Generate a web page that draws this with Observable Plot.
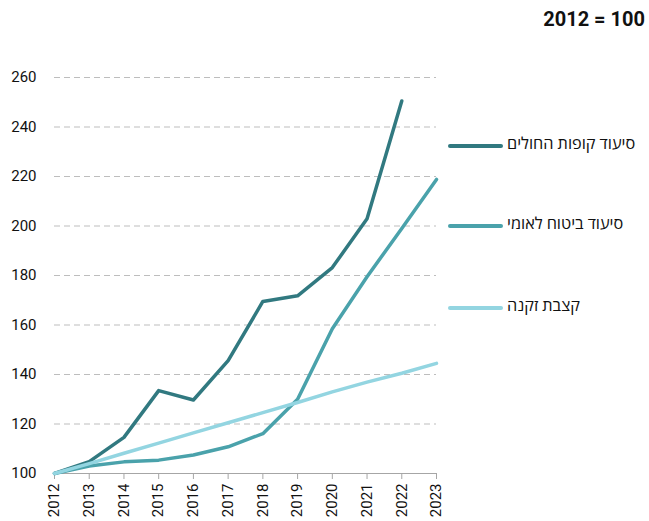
<!DOCTYPE html>
<html>
<head>
<meta charset="utf-8">
<script src="https://cdn.jsdelivr.net/npm/d3@7"></script>
<script src="https://cdn.jsdelivr.net/npm/@observablehq/plot@0.6"></script>
<style>
  html, body { margin: 0; padding: 0; background: #fff; }
  body { font-family: Roboto, "Open Sans", "Noto Sans", "DejaVu Sans", sans-serif; }
  #wrap { position: relative; width: 649px; height: 521px; }
  #title { position: absolute; right: 4px; top: 7px; font-size: 20px; font-weight: bold; color: #111; }
  .sw { position: absolute; left: 448px; width: 55px; height: 4px; border-radius: 2px; }
  .lt { position: absolute; left: 507px; font-size: 16.3px; line-height: 18px; color: #111; direction: rtl; white-space: nowrap; }
</style>
</head>
<body>
<div id="wrap">
  <div id="chart"></div>
  <div id="title">2012 = 100</div>
  <div id="legend"></div>
</div>
<script>
const years = [2012, 2013, 2014, 2015, 2016, 2017, 2018, 2019, 2020, 2021, 2022, 2023];
const seriesNames = ["סיעוד קופות החולים", "סיעוד ביטוח לאומי", "קצבת זקנה"];
const kupot   = [100, 104.8, 114.6, 133.5, 129.7, 145.6, 169.5, 171.8, 183.2, 202.9, 250.5];
const bituach = [100, 103.0, 104.7, 105.4, 107.5, 110.8, 116.1, 130.0, 158.5, 179.5, 199.0, 218.8];
const zikna   = [100, 104.0, 108.2, 112.3, 116.4, 120.5, 124.6, 128.7, 133.0, 136.9, 140.5, 144.5];
const yTicks = [100, 120, 140, 160, 180, 200, 220, 240, 260];
const colors = ["#317980", "#4aa2ab", "#93d5e1"];

const allSeries = [kupot, bituach, zikna];
const data = [];
allSeries.forEach((vals, i) => {
  vals.forEach((v, j) => data.push({year: years[j], value: v, series: seriesNames[i]}));
});

const chart = Plot.plot({
  width: 649,
  height: 521,
  marginLeft: 54,
  marginRight: 213,
  marginTop: 77,
  marginBottom: 48,
  style: {fontFamily: 'Roboto, "Open Sans", sans-serif', fontSize: "15px", color: "#111", background: "#fff"},
  x: {type: "linear", domain: [2012, 2023]},
  y: {domain: [100, 260]},
  color: {domain: seriesNames, range: colors},
  marks: [
    Plot.gridY(yTicks.filter(d => d > 100), {stroke: "#bdbdbd", strokeOpacity: 1, strokeDasharray: "6,4", strokeWidth: 1.2}),
    Plot.axisY(yTicks, {tickSize: 0, tickPadding: 18, label: null, fontSize: 15}),
    Plot.ruleY([100], {stroke: "#a6a6a6", strokeWidth: 1.2}),
    Plot.axisX(years, {tickSize: 6, tickRotate: -90, tickFormat: d => String(d), label: null, fontSize: 15, stroke: "#a6a6a6", tickPadding: 4}),
    Plot.line(data, {x: "year", y: "value", z: "series", stroke: "series", strokeWidth: 3.5, strokeLinecap: "round", strokeLinejoin: "round"})
  ]
});
document.getElementById("chart").appendChild(chart);

const legendTops = [146, 226, 308];
const leg = document.getElementById("legend");
seriesNames.forEach((name, i) => {
  const sw = document.createElement("div");
  sw.className = "sw";
  sw.style.top = (legendTops[i] - 2) + "px";
  sw.style.background = colors[i];
  const t = document.createElement("div");
  t.className = "lt";
  t.style.top = (legendTops[i] - 11) + "px";
  t.textContent = name;
  leg.appendChild(sw);
  leg.appendChild(t);
});
</script>
</body>
</html>
